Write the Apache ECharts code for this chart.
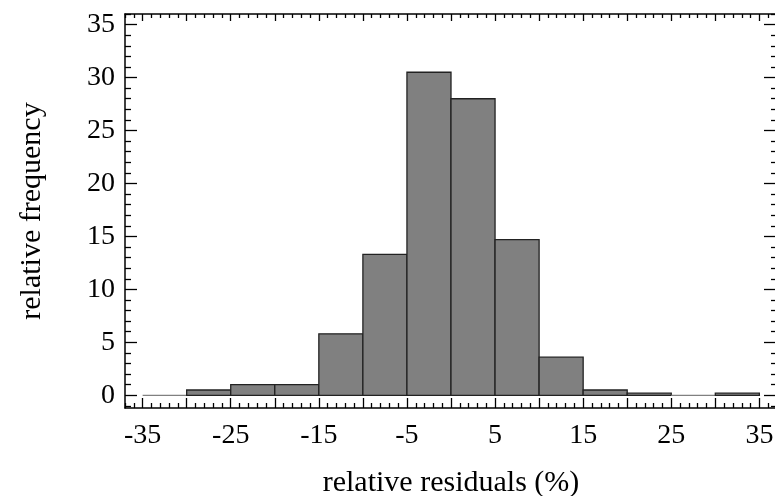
<!DOCTYPE html>
<html>
<head>
<meta charset="utf-8">
<script src="https://cdn.jsdelivr.net/npm/echarts@6/dist/echarts.min.js"></script>
<style>
    html, body { margin: 0; padding: 0; background: #fff; }
    #hist { width: 775px; height: 496px; }
</style>
</head>
<body>
<div id="hist"></div>
<script type="text/javascript">
    // histogram bins (left edge, right edge) and heights
    var binStart = [-35, -30, -25, -20, -15, -10, -5, 0, 5, 10, 15, 20, 25, 30];
    var binEnd   = [-30, -25, -20, -15, -10, -5, 0, 5, 10, 15, 20, 25, 30, 35];
    var freq     = [0, 0.5, 1.0, 1.0, 5.8, 13.3, 30.5, 28.0, 14.7, 3.6, 0.5, 0.2, 0, 0.2];

    var xMajor  = [-35, -30, -25, -20, -15, -10, -5, 0, 5, 10, 15, 20, 25, 30, 35];
    var xLabels = [-35, -25, -15, -5, 5, 15, 25, 35];
    var yMajor  = [0, 5, 10, 15, 20, 25, 30, 35];

    function minorsOf(from, to, major) {
        var out = [];
        for (var v = from; v <= to; v++) {
            if (major.indexOf(v) < 0) out.push(v);
        }
        return out;
    }
    var xMinor = minorsOf(-37, 37, xMajor);
    var yMinor = minorsOf(-1, 36, yMajor);

    var font = 'Liberation Serif';
    var xMin = -37, xMax = 37, yMin = -1.2, yMax = 36;

    function xAx(pos, ticks, len, labels, line, name) {
        return {
            type: 'value', position: pos, min: xMin, max: xMax,
            name: name || '', nameLocation: 'middle', nameGap: 60,
            nameTextStyle: { fontFamily: font, fontSize: 30, color: '#000' },
            axisLine: { show: line, onZero: false, lineStyle: { color: '#000', width: 1.5 } },
            axisTick: { show: true, inside: true, length: len, customValues: ticks,
                        lineStyle: { color: '#000', width: 1.3 } },
            axisLabel: labels ? { show: true, customValues: labels, margin: 14,
                                  fontFamily: font, fontSize: 28, color: '#000' } : { show: false },
            splitLine: { show: false }
        };
    }
    function yAx(pos, ticks, len, labels, line, name) {
        return {
            type: 'value', position: pos, min: yMin, max: yMax,
            name: name || '', nameLocation: 'middle', nameGap: 78,
            nameTextStyle: { fontFamily: font, fontSize: 30, color: '#000' },
            axisLine: { show: line, onZero: false, lineStyle: { color: '#000', width: 1.5 } },
            axisTick: { show: true, inside: true, length: len, customValues: ticks,
                        lineStyle: { color: '#000', width: 1.3 } },
            axisLabel: labels ? { show: true, customValues: labels, margin: 10,
                                  fontFamily: font, fontSize: 28, color: '#000' } : { show: false },
            splitLine: { show: false }
        };
    }

    var barData = [];
    for (var i = 0; i < freq.length; i++) {
        barData.push([binStart[i], binEnd[i], freq[i]]);
    }

    var chart = echarts.init(document.getElementById('hist'));
    chart.setOption({
        animation: false,
        grid: { left: 125, top: 14, right: -2, bottom: 88, containLabel: false, outerBoundsMode: 'none' },
        xAxis: [
            xAx('bottom', xMajor, 10, xLabels, true, 'relative residuals (%)'),
            xAx('bottom', xMinor, 5, null, false),
            xAx('top', xMajor, 7, null, true),
            xAx('top', xMinor, 4, null, false)
        ],
        yAxis: [
            yAx('left', yMajor, 12, yMajor, true, 'relative frequency'),
            yAx('left', yMinor, 6, null, false),
            yAx('right', yMajor, 13, null, true),
            yAx('right', yMinor, 6, null, false)
        ],
        series: [{
            type: 'custom',
            xAxisIndex: 0,
            yAxisIndex: 0,
            encode: { x: [0, 1], y: 2 },
            data: barData,
            renderItem: function (params, api) {
                var p0 = api.coord([api.value(0), api.value(2)]);
                var p1 = api.coord([api.value(1), 0]);
                var empty = api.value(2) === 0;
                return {
                    type: 'rect',
                    shape: { x: p0[0], y: p0[1], width: p1[0] - p0[0], height: p1[1] - p0[1] },
                    style: {
                        fill: '#808080',
                        stroke: empty ? '#808080' : '#222',
                        lineWidth: 1.3
                    }
                };
            }
        }]
    });
</script>
</body>
</html>
